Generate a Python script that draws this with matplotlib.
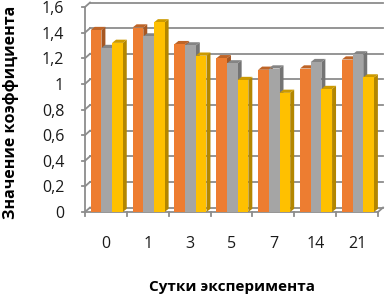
import matplotlib
matplotlib.use("Agg")
import matplotlib.pyplot as plt
from matplotlib.patches import Polygon, Rectangle
from matplotlib.colors import to_rgb
import numpy as np

plt.rcParams['font.family'] = ['Open Sans', 'DejaVu Sans']

# данные
days = ['0', '1', '3', '5', '7', '14', '21']
s1 = [1.42, 1.44, 1.31, 1.20, 1.11, 1.12, 1.19]   # orange
s2 = [1.28, 1.37, 1.30, 1.16, 1.12, 1.17, 1.23]   # gray
s3 = [1.32, 1.48, 1.22, 1.03, 0.93, 0.96, 1.05]   # yellow
yticks = [0, 0.2, 0.4, 0.6, 0.8, 1.0, 1.2, 1.4, 1.6]
ylabels = ['0', '0,2', '0,4', '0,6', '0,8', '1', '1,2', '1,4', '1,6']

colors = ['#ED7D31', '#A5A5A5', '#FFC000']
grid_c = '#8C8C8C'

def shade(c, f):
    r, g, b = to_rgb(c)
    return (r * f, g * f, b * f)

fig = plt.figure(figsize=(3.86, 3.0), dpi=100)
ax = fig.add_axes([85 / 386, 88 / 300, 293 / 386, 205 / 300])
ax.set_xlim(-0.5, 6.5)
ax.set_ylim(0, 1.6)
for s in ax.spines.values():
    s.set_visible(False)

# "3D" depth
dx, dy = 0.095, 0.025      # bar depth
wx, wy = 0.12, 0.035       # wall depth

# wall gridlines
for v in yticks:
    ax.plot([-0.5, -0.5 + wx], [v, v + wy], color=grid_c, lw=1.3, clip_on=False, zorder=1)
    ax.plot([-0.5 + wx, 6.5 + wx], [v + wy, v + wy], color=grid_c, lw=1.3, clip_on=False, zorder=1)
    ax.plot([-0.58, -0.5], [v, v], color=grid_c, lw=1.3, clip_on=False, zorder=1)
ax.plot([-0.5, -0.5], [0, 1.6], color=grid_c, lw=1.3, clip_on=False, zorder=1)
ax.plot([-0.5, 6.5], [0, 0], color=grid_c, lw=1.3, clip_on=False, zorder=1)
ax.plot([6.5, 6.5 + wx], [0, wy], color=grid_c, lw=1.3, clip_on=False, zorder=1)
for b in np.arange(-0.5, 7.0, 1.0):
    ax.plot([b, b], [0, -0.03], color=grid_c, lw=1.3, clip_on=False, zorder=1)

w = 0.255
x = np.arange(len(days))
z = 2
for i in range(len(days)):
    for k, ser in enumerate([s1, s2, s3]):
        x0 = x[i] + (k - 1) * w - w / 2 + 0.02
        h = ser[i]
        c = colors[k]
        side = Polygon([[x0 + w, 0], [x0 + w + dx, dy], [x0 + w + dx, h + dy], [x0 + w, h]],
                       closed=True, fc=shade(c, 0.7), ec='none', zorder=z, clip_on=False)
        top = Polygon([[x0, h], [x0 + dx, h + dy], [x0 + w + dx, h + dy], [x0 + w, h]],
                      closed=True, fc=shade(c, 0.8), ec='none', zorder=z, clip_on=False)
        front = Rectangle((x0, 0), w, h, fc=c, ec='none', zorder=z + 1, clip_on=False)
        ax.add_patch(side)
        ax.add_patch(top)
        ax.add_patch(front)
        z += 2

ax.set_yticks(yticks)
ax.set_yticklabels(ylabels)
ax.set_xticks(x)
ax.set_xticklabels(days)
ax.tick_params(axis='y', length=0, pad=15, labelsize=11.5, labelcolor='#1a1a1a')
ax.tick_params(axis='x', length=0, pad=17, labelsize=11.5, labelcolor='#1a1a1a')

fig.text(232 / 386, 1 - 287 / 300, 'Сутки эксперимента', ha='center', va='center',
         fontsize=11, fontweight='bold')
fig.text(11 / 386, 1 - 112 / 300, 'Значение коэффициента', ha='center', va='center',
         rotation=90, fontsize=11.5, fontweight='bold')

fig.savefig('out.png', dpi=100)
